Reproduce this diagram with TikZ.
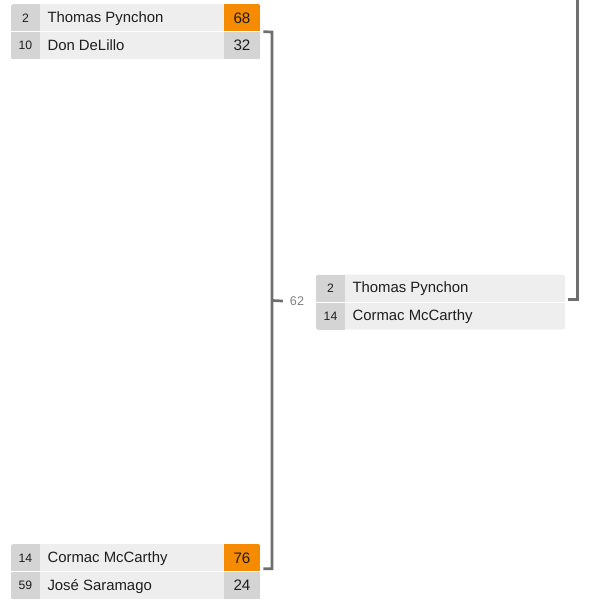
\documentclass[tikz,border=0pt]{standalone}
\usepackage{fontspec}
\setmainfont{Liberation Sans}
\definecolor{boxbg}{HTML}{EEEEEE}
\definecolor{cellbg}{HTML}{D4D4D4}
\definecolor{win}{HTML}{F68B00}
\definecolor{txt}{HTML}{1E1E1E}
\definecolor{linec}{HTML}{6E6E6E}
\definecolor{lblc}{HTML}{808080}
\begin{document}
\begin{tikzpicture}[x=1pt,y=-1pt,
  matchbox/.style={fill=boxbg, rounded corners=2.5pt, minimum width=249pt, minimum height=55pt, inner sep=0pt, anchor=north west},
  seedcell/.style={fill=cellbg, minimum width=29pt, minimum height=27.5pt, inner sep=0pt},
  seedtxt/.style={inner sep=0pt, text=txt, font=\fontsize{12.2}{13}\selectfont, text height=8.7pt, text depth=0pt},
  nametxt/.style={anchor=west, inner sep=0pt, text=txt, font=\fontsize{14.9}{16}\selectfont, text height=10.7pt, text depth=0pt},
  scorecell/.style={minimum width=36pt, minimum height=27.5pt, inner sep=0pt},
  scoretxt/.style={inner sep=0pt, text=txt, font=\fontsize{15.2}{16}\selectfont, text height=10.9pt, text depth=0pt},
  sep/.style={white, line width=1pt},
  conn/.style={draw=linec, line width=2.7pt, line join=miter}]
\useasboundingbox (0,0) rectangle (602,603);

% ---- match 1 (top left)
\node[matchbox] (m1) at (11,4) {};
\begin{scope}
  \clip[rounded corners=2.5pt] (m1.north west) rectangle (m1.south east);
  \node[seedcell] (m1s1) at (25.5,17.75) {};
  \node[seedcell] (m1s2) at (25.5,45.25) {};
  \node[scorecell, fill=win] (m1c1) at (242,17.75) {};
  \node[scorecell, fill=cellbg] (m1c2) at (242,45.25) {};
  \draw[sep] (m1.west) -- (m1.east);
\end{scope}
\node[seedtxt] at (m1s1) {2};
\node[seedtxt] at (m1s2) {10};
\node[nametxt] (m1n1) at (47.3,17) {Thomas Pynchon};
\node[nametxt] (m1n2) at (47.3,44.75) {Don DeLillo};
\node[scoretxt] at (m1c1) {68};
\node[scoretxt] at (m1c2) {32};

% ---- match 3 (bottom left)
\node[matchbox] (m3) at (11,544) {};
\begin{scope}
  \clip[rounded corners=2.5pt] (m3.north west) rectangle (m3.south east);
  \node[seedcell] (m3s1) at (25.5,557.75) {};
  \node[seedcell] (m3s2) at (25.5,585.25) {};
  \node[scorecell, fill=win] (m3c1) at (242,557.75) {};
  \node[scorecell, fill=cellbg] (m3c2) at (242,585.25) {};
  \draw[sep] (m3.west) -- (m3.east);
\end{scope}
\node[seedtxt] at (m3s1) {14};
\node[seedtxt] at (m3s2) {59};
\node[nametxt] (m3n1) at (47.3,557) {Cormac McCarthy};
\node[nametxt] (m3n2) at (47.3,584.75) {José Saramago};
\node[scoretxt] at (m3c1) {76};
\node[scoretxt] at (m3c2) {24};

% ---- match 2 (middle)
\node[matchbox] (m2) at (316,274.5) {};
\begin{scope}
  \clip[rounded corners=2.5pt] (m2.north west) rectangle (m2.south east);
  \node[seedcell] (m2s1) at (330.5,288.25) {};
  \node[seedcell] (m2s2) at (330.5,315.75) {};
  \draw[sep] (m2.west) -- (m2.east);
\end{scope}
\node[seedtxt] at (m2s1) {2};
\node[seedtxt] at (m2s2) {14};
\node[nametxt] (m2n1) at (352.3,287.5) {Thomas Pynchon};
\node[nametxt] (m2n2) at (352.3,315.25) {Cormac McCarthy};

% ---- connectors
\coordinate (jtop) at (272,32);
\coordinate (jmid) at (272,300.5);
\node[inner sep=0pt, text=lblc, font=\fontsize{12.6}{13}\selectfont, text height=9pt, text depth=0pt] (lbl) at (297,301) {62};
\draw[conn] ([xshift=3pt]m1.east) -- (jtop) |- ([xshift=3pt,yshift=3pt]m3.east);
\draw[conn] (jmid) -- ([xshift=-7pt]lbl.west);
\coordinate (rtop) at (577.5,-3);
\draw[conn] ([xshift=3pt,yshift=3pt]m2.east) -| (rtop);
\end{tikzpicture}
\end{document}
